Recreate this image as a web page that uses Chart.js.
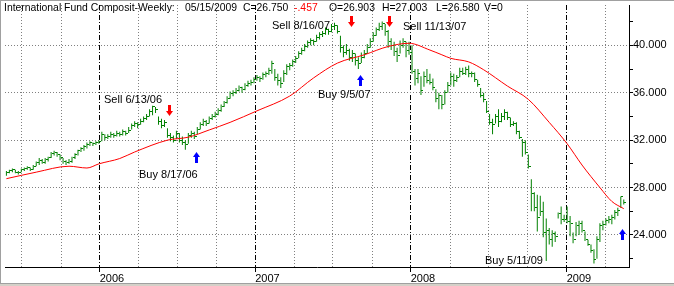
<!DOCTYPE html>
<html>
<head>
<meta charset="utf-8">
<title>International Fund Composit-Weekly</title>
<script src="https://cdn.jsdelivr.net/npm/chart.js@4.4.1/dist/chart.umd.min.js"></script>
<style>
html, body { margin: 0; padding: 0; background: #fff; }
#wrap { width: 674px; height: 286px; }
</style>
</head>
<body>
<div id="wrap"><canvas id="myCanvas" width="674" height="286"></canvas></div>
<script>
// weekly bars, first one is the week ending 2005-05-27, last one 2009-05-15
var firstWeek = '2005-05-27';

var high = [
  29.4, 29.5, 29.6, 29.5, 29.4, 29.6, 29.7, 29.8, 29.7, 29.9,
  30.2, 30.5, 30.4, 30.5, 30.6, 31.0, 31.1, 31.0, 30.8, 30.5,
  30.3, 30.4, 30.6, 30.9, 31.2, 31.4, 31.6, 31.8, 31.9, 31.8,
  31.9, 32.0, 32.7, 32.5, 32.5, 32.7, 32.6, 32.8, 32.7, 32.9,
  32.8, 33.1, 33.4, 33.6, 33.5, 33.8, 34.0, 34.2, 34.6, 34.9,
  34.8, 34.0, 33.8, 33.7, 33.0, 32.6, 32.4, 32.8, 32.6, 32.3,
  32.0, 32.6, 32.8, 32.7, 33.1, 33.5, 33.8, 33.7, 34.0, 34.2,
  34.4, 34.7, 35.0, 35.3, 35.7, 36.1, 36.2, 36.4, 36.6, 36.5,
  36.8, 37.0, 37.1, 37.3, 37.5, 37.4, 37.7, 37.8, 38.1, 38.7,
  38.0, 37.6, 37.3, 37.9, 38.4, 38.5, 38.8, 39.1, 39.5, 39.8,
  40.1, 40.4, 40.6, 40.5, 40.9, 41.1, 41.2, 41.5, 41.4, 41.8,
  41.9, 41.7, 40.8, 40.0, 40.1, 39.7, 39.6, 39.3, 39.0, 39.4,
  39.6, 40.1, 40.6, 41.1, 41.5, 41.9, 42.0, 41.8, 41.3, 40.6,
  40.3, 39.8, 40.4, 40.6, 40.3, 40.3, 40.0, 38.0, 38.0, 37.4,
  37.8, 38.0, 37.6, 37.2, 36.3, 36.0, 35.8, 36.2, 36.9, 37.7,
  37.6, 37.5, 38.1, 38.1, 38.2, 38.3, 37.8, 37.7, 37.1, 36.4,
  36.0, 35.3, 34.2, 33.8, 34.2, 34.6, 34.3, 34.6, 34.4, 33.9,
  33.6, 33.5, 32.8, 32.1, 32.0, 30.8, 28.7, 27.6, 27.4, 27.3,
  26.8, 25.4, 24.6, 24.4, 24.3, 25.9, 26.4, 25.7, 26.4, 25.6,
  24.2, 25.1, 25.2, 25.2, 24.3, 23.6, 23.2, 22.8, 23.9, 25.0,
  25.2, 25.4, 25.6, 25.7, 26.1, 26.3, 27.25, 27.003
];

var low = [
  29.0, 29.2, 29.3, 29.2, 29.1, 29.3, 29.4, 29.5, 29.4, 29.5,
  29.8, 29.9, 30.0, 30.0, 30.2, 30.5, 30.7, 30.6, 30.3, 30.0,
  29.9, 30.0, 30.1, 30.4, 30.7, 31.0, 31.1, 31.3, 31.5, 31.5,
  31.6, 31.7, 31.9, 32.0, 32.1, 32.2, 32.2, 32.3, 32.3, 32.4,
  32.4, 32.6, 32.9, 33.1, 33.0, 33.3, 33.5, 33.7, 34.0, 34.1,
  34.3, 33.3, 33.0, 33.1, 32.2, 31.9, 31.8, 32.1, 31.8, 31.6,
  31.2, 31.7, 32.2, 32.1, 32.5, 32.9, 33.2, 33.2, 33.4, 33.7,
  33.9, 34.1, 34.4, 34.8, 35.1, 35.5, 35.7, 35.9, 36.1, 36.0,
  36.2, 36.5, 36.6, 36.8, 37.0, 36.9, 37.1, 37.3, 37.5, 37.6,
  37.0, 36.6, 36.4, 36.9, 37.5, 37.9, 38.2, 38.5, 38.9, 39.2,
  39.5, 39.8, 40.0, 40.0, 40.3, 40.5, 40.7, 40.9, 40.9, 41.1,
  41.3, 41.0, 39.4, 39.0, 39.2, 38.7, 38.6, 38.3, 38.0, 38.5,
  38.9, 39.3, 39.8, 40.3, 40.8, 41.2, 41.3, 40.8, 39.8, 39.6,
  39.1, 38.6, 39.3, 39.8, 39.0, 39.2, 37.6, 36.6, 36.8, 35.8,
  36.5, 36.8, 36.7, 36.2, 35.2, 34.6, 34.6, 35.0, 36.0, 36.6,
  36.5, 36.9, 37.3, 37.5, 37.5, 37.3, 37.3, 36.9, 36.5, 35.6,
  35.2, 34.3, 33.3, 32.5, 33.4, 33.1, 33.5, 33.7, 33.7, 33.1,
  33.2, 32.5, 32.1, 30.6, 30.8, 29.6, 26.0, 26.0, 24.3, 25.6,
  23.8, 21.8, 23.2, 23.0, 23.4, 25.4, 24.9, 25.1, 25.0, 23.9,
  23.3, 23.9, 24.0, 24.2, 23.5, 23.1, 22.5, 21.6, 22.0, 23.4,
  24.4, 24.8, 25.0, 24.9, 25.3, 25.6, 26.3, 26.58
];

var close = [
  29.3, 29.4, 29.5, 29.3, 29.3, 29.5, 29.6, 29.7, 29.5, 29.8,
  30.1, 30.3, 30.1, 30.4, 30.5, 30.9, 31.0, 30.8, 30.5, 30.2,
  30.1, 30.2, 30.5, 30.8, 31.1, 31.3, 31.5, 31.6, 31.8, 31.7,
  31.8, 31.9, 32.5, 32.2, 32.3, 32.5, 32.4, 32.6, 32.5, 32.7,
  32.6, 32.8, 33.2, 33.4, 33.3, 33.6, 33.8, 34.0, 34.4, 34.8,
  34.6, 33.6, 33.2, 33.5, 32.4, 32.2, 32.0, 32.6, 32.0, 31.8,
  31.6, 32.4, 32.6, 32.3, 32.9, 33.3, 33.6, 33.4, 33.8, 34.0,
  34.2, 34.5, 34.8, 35.2, 35.5, 35.9, 36.0, 36.2, 36.4, 36.3,
  36.6, 36.8, 36.9, 37.1, 37.3, 37.2, 37.5, 37.6, 37.9, 38.5,
  37.3, 37.0, 36.8, 37.6, 38.2, 38.3, 38.6, 38.9, 39.3, 39.6,
  39.9, 40.2, 40.4, 40.3, 40.7, 40.9, 41.0, 41.3, 41.2, 41.6,
  41.7, 41.2, 39.8, 39.4, 39.6, 39.0, 39.3, 38.7, 38.5, 39.0,
  39.3, 39.8, 40.3, 40.8, 41.3, 41.6, 41.8, 41.2, 40.3, 40.0,
  39.5, 39.1, 40.0, 40.3, 39.6, 39.4, 37.8, 37.2, 37.6, 36.2,
  37.4, 37.0, 36.9, 36.4, 35.5, 35.8, 35.0, 36.0, 36.6, 37.4,
  37.0, 37.3, 37.8, 37.6, 38.0, 37.6, 37.6, 37.1, 36.7, 35.8,
  35.4, 34.4, 33.5, 33.3, 34.0, 33.6, 34.0, 34.3, 33.9, 33.3,
  33.4, 32.7, 32.2, 31.8, 31.0, 29.8, 27.5, 26.3, 25.5, 26.0,
  24.2, 24.4, 23.6, 24.1, 23.9, 25.8, 25.3, 25.3, 25.1, 25.0,
  23.6, 24.8, 25.0, 24.4, 23.6, 23.2, 22.7, 21.9, 23.6, 24.8,
  24.9, 25.2, 25.3, 25.5, 25.9, 26.1, 27.207, 26.75
];

// red moving average, read at these bar numbers
var maWeek  = [0, 10, 21, 27, 31, 38, 43, 54, 61, 68, 75, 84, 95, 103, 111, 120, 128, 135, 142, 146, 149, 155, 160, 168, 175, 182, 188, 193, 199, 203, 207];
var maValue = [28.75, 29.3, 29.8, 29.65, 30.0, 30.45, 31.0, 32.0, 32.25, 32.86, 33.5, 34.47, 35.72, 37.25, 38.5, 39.2, 39.9, 40.17, 39.6, 39.2, 38.9, 38.6, 37.94, 36.56, 35.44, 33.5, 31.7, 29.9, 28.0, 26.83, 26.22];

var yearDates = ['2006-01-01', '2007-01-01', '2008-01-01', '2009-01-01'];
var yearLabels = ['2006', '2007', '2008', '2009'];
var quarterDates = ['2005-07-01', '2005-10-01', '2006-04-01', '2006-07-01', '2006-10-01',
  '2007-04-01', '2007-07-01', '2007-10-01', '2008-04-01', '2008-07-01', '2008-10-01', '2009-04-01'];
var priceTicks = [22, 24, 26, 28, 30, 32, 34, 36, 38, 40, 42];

var signalType  = ['Sell', 'Buy', 'Sell', 'Buy', 'Sell', 'Buy'];
var signalDate  = ['6/13/06', '8/17/06', '8/16/07', '9/5/07', '11/13/07', '5/11/09'];
var signalLevel = [34.46, 30.54, 42.04, 37.04, 42.04, 24.04];
// where the caption sits, in pixels from its arrow
var captionShift = [[-65, -11], [-58, 18], [-80, 5], [-42, 15], [13, 6], [-137, 26]];

var headerText  = ['International Fund Composit-Weekly:', '05/15/2009', 'C=26.750', '-.457', 'O=26.903', 'H=27.003', 'L=26.580', 'V=0'];
var headerX     = [4, 185, 243, 294, 329, 382, 436, 484];
var headerColor = ['#000', '#000', '#000', '#f00', '#000', '#000', '#000', '#000'];

function weekIndex(d) {
  var p = d.split('-');
  var f = firstWeek.split('-');
  return (Date.UTC(+p[0], p[1] - 1, +p[2]) - Date.UTC(+f[0], f[1] - 1, +f[2])) / (7 * 864e5);
}
function signalIndex(s) {
  var p = s.split('/');
  return weekIndex((2000 + +p[2]) + '-' + p[0] + '-' + p[1]);
}

// small images used as point styles
function makeTick() {
  var c = document.createElement('canvas');
  c.width = 5; c.height = 1;
  var g = c.getContext('2d');
  g.fillStyle = '#008000';
  g.fillRect(3, 0, 2, 1);
  return c;
}
function makeArrow(color, up) {
  var c = document.createElement('canvas');
  c.width = 7; c.height = 11;
  var g = c.getContext('2d');
  g.fillStyle = color;
  g.beginPath();
  if (up) {
    g.moveTo(3.5, 0); g.lineTo(7, 5); g.lineTo(0, 5);
    g.closePath(); g.fill();
    g.fillRect(2, 5, 3, 6);
  } else {
    g.fillRect(2, 0, 3, 6);
    g.moveTo(0, 6); g.lineTo(7, 6); g.lineTo(3.5, 11);
    g.closePath(); g.fill();
  }
  return c;
}

var barData = [], closeData = [], maData = [], sellData = [], buyData = [];
for (var i = 0; i < close.length; i++) {
  barData.push({x: i, y: [low[i], high[i]]});
  closeData.push({x: i, y: close[i]});
}
for (var j = 0; j < maWeek.length; j++) {
  maData.push({x: maWeek[j], y: maValue[j]});
}
for (var k = 0; k < signalType.length; k++) {
  var pt = {x: signalIndex(signalDate[k]), y: signalLevel[k]};
  if (signalType[k] == 'Sell') sellData.push(pt); else buyData.push(pt);
}

var decorations = {
  id: 'decorations',
  beforeDraw: function (chart) {
    var ctx = chart.ctx;
    ctx.save();
    ctx.fillStyle = '#fff';
    ctx.fillRect(0, 0, chart.width, chart.height);
    ctx.restore();
    ctx.imageSmoothingEnabled = false;
  },
  beforeDatasetsDraw: function (chart) {
    var ctx = chart.ctx, area = chart.chartArea, xs = chart.scales.x;
    ctx.save();
    ctx.strokeStyle = '#808080';
    ctx.lineWidth = 1;
    ctx.setLineDash([1, 2]);
    quarterDates.forEach(function (d) {
      var px = Math.round(xs.getPixelForValue(weekIndex(d))) + 0.5;
      ctx.beginPath();
      ctx.moveTo(px, area.top);
      ctx.lineTo(px, area.bottom);
      ctx.stroke();
    });
    ctx.restore();
  },
  afterDatasetsDraw: function (chart) {
    var ctx = chart.ctx, xs = chart.scales.x, ys = chart.scales.y;
    ctx.save();
    ctx.font = '11px Arial, "Liberation Sans", sans-serif';
    ctx.textBaseline = 'middle';
    ctx.textAlign = 'left';
    ctx.fillStyle = '#000';
    for (var n = 0; n < signalType.length; n++) {
      var ax = xs.getPixelForValue(signalIndex(signalDate[n]));
      var ay = ys.getPixelForValue(signalLevel[n]);
      ctx.fillText(signalType[n] + ' ' + signalDate[n], Math.round(ax + captionShift[n][0]), Math.round(ay + captionShift[n][1]));
    }
    ctx.font = '10.4px Arial, "Liberation Sans", sans-serif';
    for (var h = 0; h < headerText.length; h++) {
      ctx.fillStyle = headerColor[h];
      ctx.fillText(headerText[h], headerX[h], 8);
    }
    ctx.restore();
  },
  afterDraw: function (chart) {
    var ctx = chart.ctx;
    ctx.save();
    ctx.fillStyle = '#a0a0a0';
    ctx.fillRect(0, 0, chart.width, 1);
    ctx.fillRect(0, 0, 1, chart.height);
    ctx.fillStyle = '#d4d0c8';
    ctx.fillRect(0, 283, chart.width, 3);
    ctx.fillStyle = '#a0a0a0';
    ctx.fillRect(0, 283, chart.width, 1);
    ctx.restore();
  }
};

Chart.defaults.font.family = 'Arial, "Liberation Sans", sans-serif';
Chart.defaults.font.size = 11;
Chart.defaults.color = '#000';

var myChart = new Chart(document.getElementById('myCanvas').getContext('2d'), {
  type: 'bar',
  data: {
    datasets: [
      {
        type: 'line', data: maData, borderColor: '#ff0000', borderWidth: 1,
        pointRadius: 0, cubicInterpolationMode: 'monotone', order: 1
      },
      {
        type: 'bar', data: barData, backgroundColor: '#008000', borderWidth: 0,
        barThickness: 1, inflateAmount: 0, order: 3
      },
      {
        type: 'scatter', data: closeData, pointStyle: makeTick(), pointRadius: 2, order: 2
      },
      {
        type: 'scatter', data: sellData, pointStyle: makeArrow('#ff0000', false), pointRadius: 4, order: 0
      },
      {
        type: 'scatter', data: buyData, pointStyle: makeArrow('#0000ff', true), pointRadius: 4, order: 0
      }
    ]
  },
  options: {
    responsive: false,
    animation: false,
    devicePixelRatio: 1,
    events: [],
    layout: { padding: { left: 3, top: 1, right: 0, bottom: 0 } },
    plugins: { legend: { display: false }, tooltip: { enabled: false }, title: { display: false } },
    scales: {
      x: {
        type: 'linear',
        min: -0.47, max: 208.75,
        offset: false,
        afterBuildTicks: function (scale) {
          scale.ticks = yearDates.map(function (d) { return {value: weekIndex(d)}; });
        },
        afterFit: function (scale) {
          scale.height = 19;
          scale.paddingLeft = 0;
          scale.paddingRight = 0;
        },
        ticks: {
          autoSkip: false, maxRotation: 0, padding: 0, align: 'start',
          callback: function (v, idx) { return yearLabels[idx]; }
        },
        grid: {
          offset: false, color: '#000', lineWidth: 1,
          drawTicks: true, tickLength: 5, tickColor: '#000'
        },
        border: { display: true, color: '#000', width: 1, dash: [5, 2, 1, 2] }
      },
      y: {
        position: 'right',
        min: 21.3, max: 43.4,
        beginAtZero: false,
        afterBuildTicks: function (scale) {
          scale.ticks = priceTicks.map(function (v) { return {value: v}; });
        },
        afterFit: function (scale) {
          scale.width = 45;
          scale.paddingTop = 0;
          scale.paddingBottom = 0;
        },
        ticks: {
          padding: 0, autoSkip: false,
          callback: function (v) { return v % 4 === 0 ? v.toFixed(3) : ''; }
        },
        grid: {
          color: function (c) { return c.tick && c.tick.value % 4 === 0 ? '#808080' : 'rgba(0,0,0,0)'; },
          lineWidth: 1, drawTicks: true, tickLength: 4, tickColor: '#000'
        },
        border: { display: true, color: '#000', width: 1, dash: [1, 2] }
      }
    }
  },
  plugins: [decorations]
});
</script>
</body>
</html>
